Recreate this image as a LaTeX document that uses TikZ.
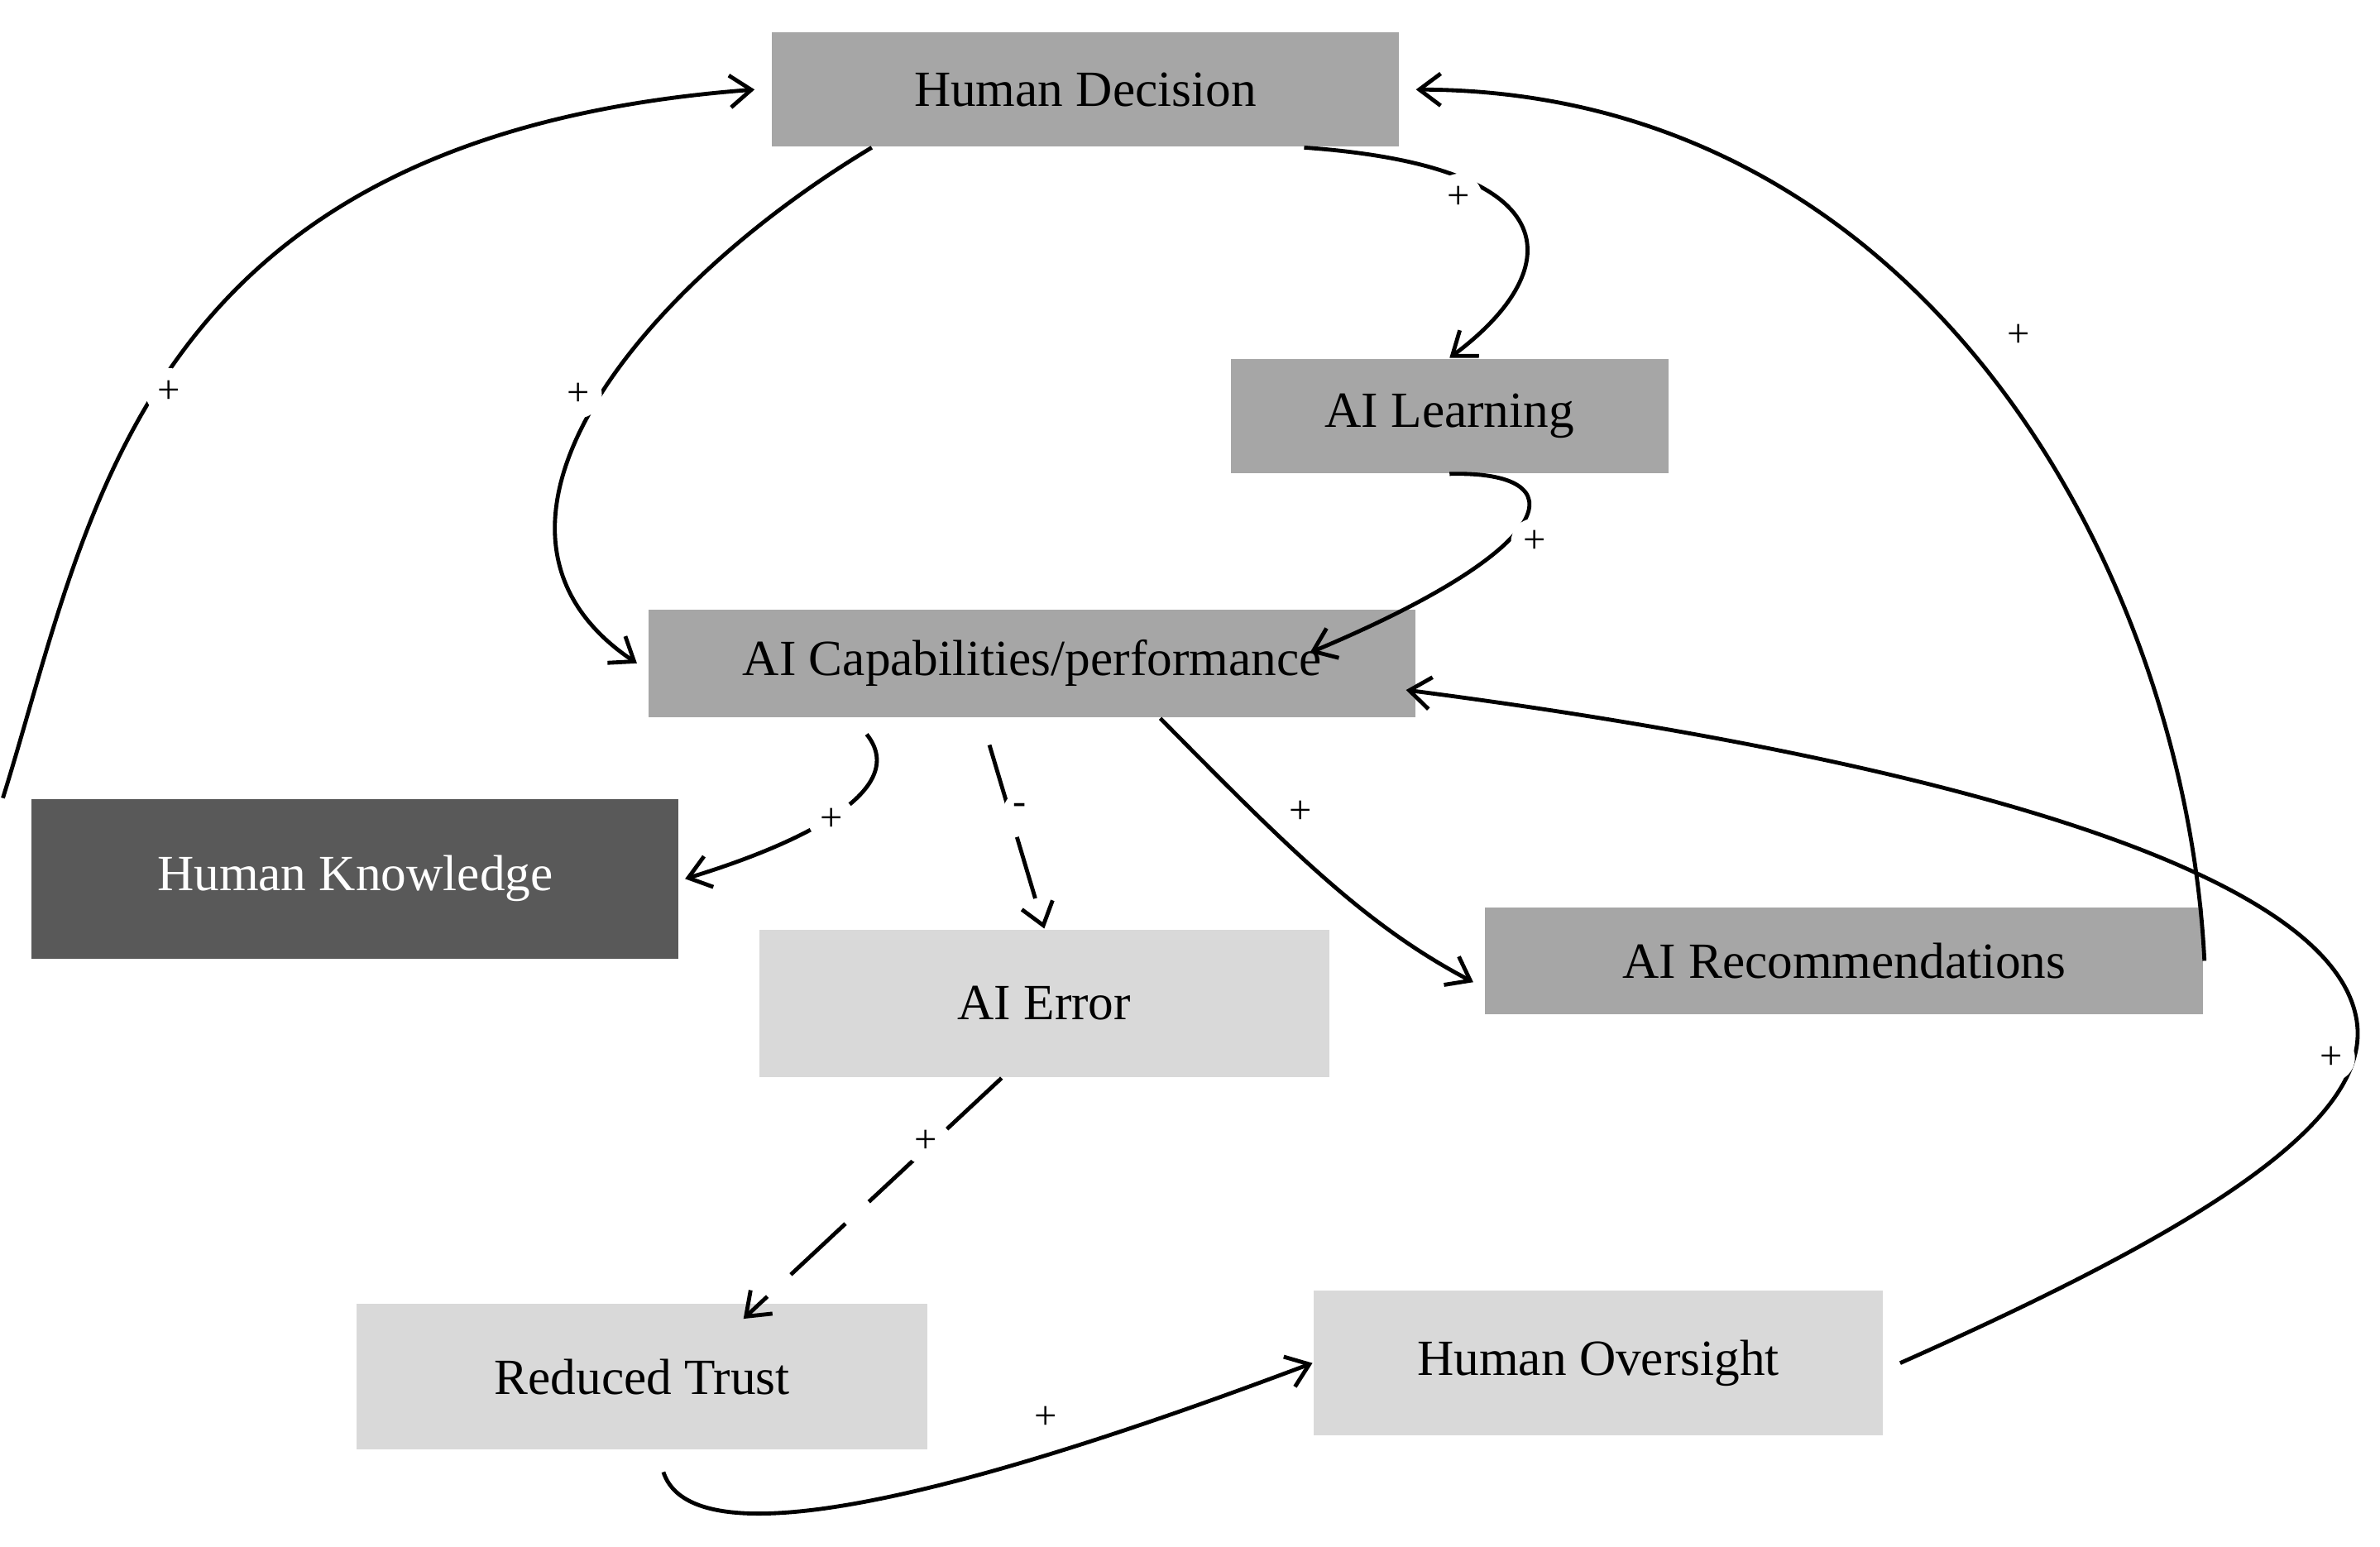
\documentclass[tikz,border=0pt]{standalone}
\usepackage{fontspec}
\setmainfont{Liberation Serif}
\usetikzlibrary{arrows.meta}
\definecolor{mid}{HTML}{A6A6A6}
\definecolor{dark}{HTML}{595959}
\definecolor{light}{HTML}{D9D9D9}
\begin{document}
\begin{tikzpicture}[x=0.01cm,y=-0.01cm,
 box/.style={draw=none,minimum width=#1,inner sep=0pt,font=\fontsize{9.5}{11}\selectfont},
 lnk/.style={line width=0.75pt,-{Straight Barb[length=4pt,width=6pt]}},
 sg/.style={fill=white,circle,inner sep=1pt,font=\fontsize{7.5}{8}\selectfont}]
\useasboundingbox (0,0) rectangle (1568,1019);
\node[box,fill=mid,minimum width=4.13cm,minimum height=0.75cm] (hd) at (715,59) {Human Decision};
\node[box,fill=mid,minimum width=2.88cm,minimum height=0.75cm] (ail) at (955,274) {AI Learning};
\node[box,fill=mid,minimum width=5.05cm,minimum height=0.71cm] (aic) at (680,437) {AI Capabilities/performance};
\node[box,fill=dark,text=white,minimum width=4.26cm,minimum height=1.05cm] (hk) at (234,579) {Human Knowledge};
\node[box,fill=light,minimum width=3.75cm,minimum height=0.97cm] (aie) at (688,661) {AI Error};
\node[box,fill=mid,minimum width=4.73cm,minimum height=0.70cm] (air) at (1215,633) {AI Recommendations};
\node[box,fill=light,minimum width=3.76cm,minimum height=0.96cm] (rt) at (423,907) {Reduced Trust};
\node[box,fill=light,minimum width=3.75cm,minimum height=0.95cm] (ho) at (1053,898) {Human Oversight};

\draw[lnk] ([xshift=-66pt]hk.north) .. controls (60,340) and (90,90) .. ([xshift=-3pt]hd.west);
\draw[lnk] ([xshift=-40pt]hd.south) .. controls (420,190) and (290,350) .. ([xshift=-2pt]aic.west);
\draw[lnk] ([xshift=41pt]hd.south) .. controls (1040,110) and (1030,180) .. (ail.north);
\draw[lnk] (ail.south) .. controls (1040,310) and (1030,360) .. ([xshift=-20pt,yshift=2pt]aic.east);
\draw[lnk] ([xshift=-31pt,yshift=-3pt]aic.south) .. controls (600,520) and (530,555) .. ([xshift=1pt]hk.east);
\draw[lnk,dash pattern=on 12pt off 6pt] ([xshift=-8pt,yshift=-5pt]aic.south) -- (aie.north);
\draw[lnk] ([xshift=24pt]aic.south) .. controls (850,560) and (900,610) .. ([xshift=-2pt,yshift=-4pt]air.west);
\draw[lnk,dash pattern=on 14pt off 6pt] ([xshift=-8pt]aie.south) -- ([xshift=19pt,yshift=-3pt]rt.north);
\draw[lnk] ([xshift=4pt,yshift=-4pt]rt.south) .. controls (460,1040) and (700,960) .. (ho.west);
\draw[lnk] ([xshift=3pt]ho.east) .. controls (1450,810) and (1560,740) .. (1553,675) .. controls (1540,560) and (1200,490) .. ([xshift=-2pt,yshift=-5pt]aic.east);
\draw[lnk] (air.east) .. controls (1440,380) and (1270,60) .. ([xshift=3pt]hd.east);

\node[sg] (s1) at (111,258) {+};
\node[sg] (s2) at (381,260) {+};
\node[sg] (s3) at (961,130) {+};
\node[sg] (s4) at (1011,357) {+};
\node[sg] (s5) at (548,540) {+};
\node[sg] (s6) at (672,533) {-};
\node[sg] (s7) at (857,535) {+};
\node[sg] (s8) at (610,752) {+};
\node[sg] (s9) at (689,934) {+};
\node[sg] (s10) at (1536,697) {+};
\node[sg] (s11) at (1330,221) {+};
\end{tikzpicture}
\end{document}
